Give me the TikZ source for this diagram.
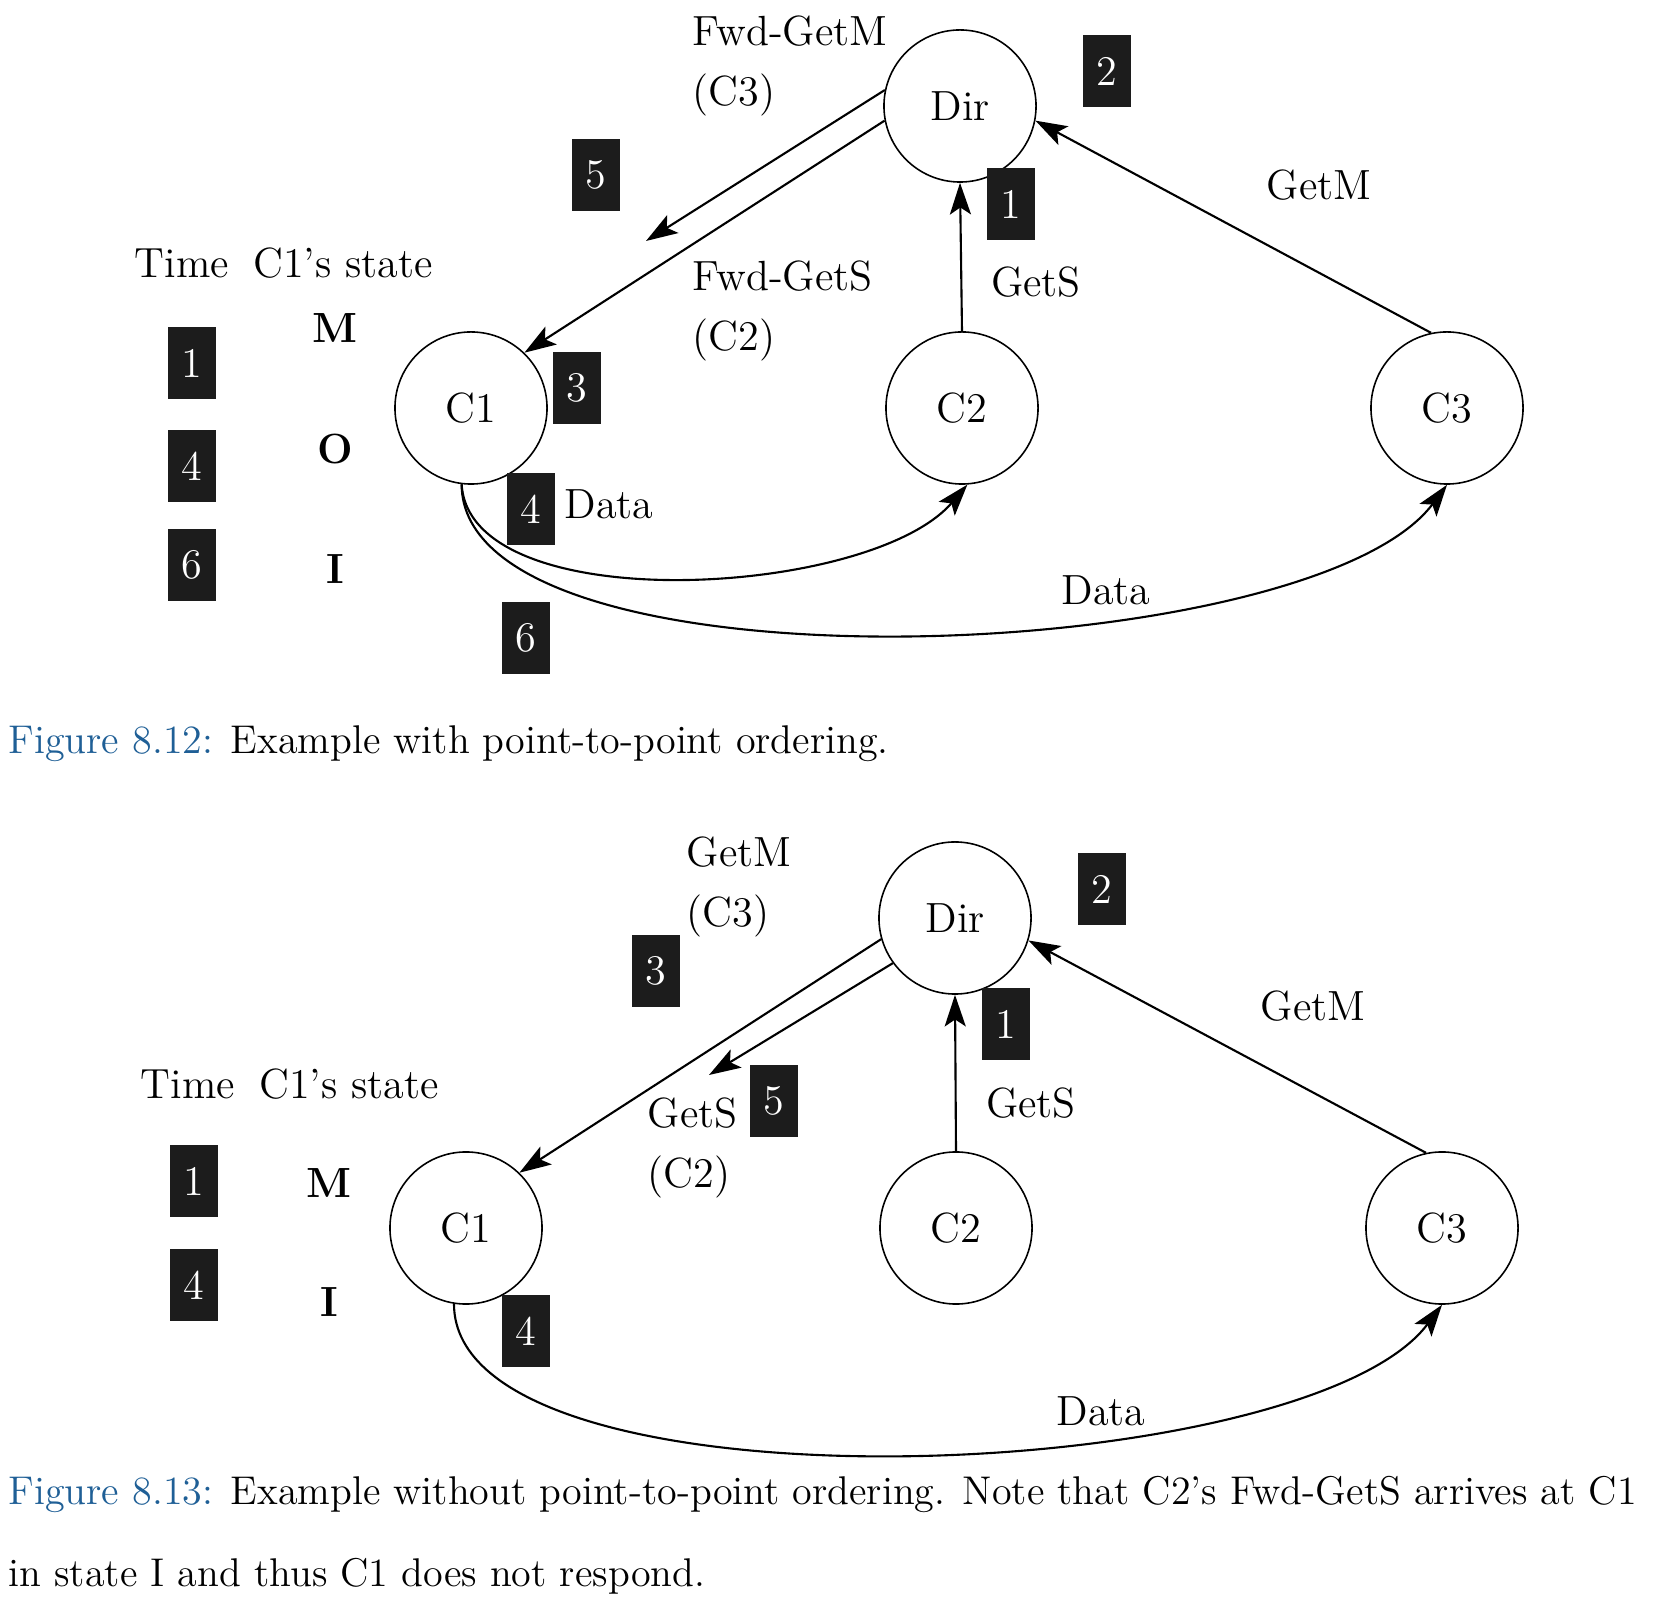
\documentclass[tikz,border=0pt]{standalone}
\usepackage{fontspec}
\usetikzlibrary{arrows.meta,positioning}

\definecolor{capblue}{RGB}{31,95,150}
\definecolor{stampgray}{RGB}{28,28,28}

\begin{document}
\begin{tikzpicture}[x=0.01cm,y=-0.01cm,font=\fontsize{12}{17}\selectfont,
  cache/.style={circle,draw,line width=0.45pt,minimum size=1.52cm,inner sep=0pt},
  stamp/.style={fill=stampgray,text=white,minimum width=0.47cm,minimum height=0.72cm,inner sep=0pt},
  msg/.style={line width=0.6pt,-{Stealth[length=9pt,width=6pt,inset=2pt]}},
  lab/.style={align=left,anchor=west,inner sep=0pt},
  cstate/.style={font=\fontsize{12}{17}\selectfont\bfseries},
  caption/.style={inner sep=0pt,font=\fontsize{11.4}{23.3}\selectfont}]

\useasboundingbox (0,0) rectangle (1660,1610);

%%% Figure 8.12

% Nodes
\node[cache] (dirA) at (960,106) {Dir};
\node[cache] (c1A) at (471,408) {C1};
\node[cache] (c2A) at (962,408) {C2};
\node[cache] (c3A) at (1447,408) {C3};
\coordinate (fwdA) at (646,241);

% Messages
\draw[msg] (dirA.168) -- (fwdA);
\draw[msg] (dirA.191) -- (c1A.46);
\draw[msg] (c2A.north) -- (dirA.south);
\draw[msg] (c3A.102) -- (dirA.-11);
\draw[msg] (c1A.263) .. controls +(8,136) and +(-97,113) .. (c2A.274);
\draw[msg] (c1A.263) .. controls +(0,216) and +(-137,183) .. (c3A.270);

% Labels
\node[lab] (lfgm) at (692,66) {Fwd-GetM\\(C3)};
\node[lab] (lfgs) at (692,311) {Fwd-GetS\\(C2)};
\node (lgsA) at (1036,282) {GetS};
\node (lgmA) at (1319,185) {GetM};
\node (ld1A) at (609,504) {Data};
\node (ld2A) at (1106,590) {Data};

% Time stamps
\node[stamp] (sA2) at (1107,71) {2};
\node[stamp] (sA5) at (596,175) {5};
\node[stamp] (sA1) at (1011,204) {1};
\node[stamp] (sA3) at (577,388) {3};
\node[stamp] (sA4) at (531,509) {4};
\node[stamp] (sA6) at (526,638) {6};

% C1's state over time
\node (timeA) at (182,263) {Time};
\node (stA) at (343,263) {C1's state};
\foreach \n/\by/\s/\sy in {1/363/M/328, 4/466/O/449, 6/565/I/569}
{
  \node[stamp] (tA\n) at (192,\by) {\n};
  \node[cstate] (kA\n) at (335,\sy) {\s};
}

\node[caption,anchor=west] (capA) at (8,744)
{\textcolor{capblue}{Figure 8.12:} Example with point-to-point ordering.};

%%% Figure 8.13

% Nodes
\node[cache] (dirB) at (955,918) {Dir};
\node[cache] (c1B) at (466,1228) {C1};
\node[cache] (c2B) at (956,1228) {C2};
\node[cache] (c3B) at (1442,1228) {C3};
\coordinate (fwdB) at (709,1075);

% Messages
\draw[msg] (dirB.196) -- (c1B.46);
\draw[msg] (dirB.216) -- (fwdB);
\draw[msg] (c2B.north) -- (dirB.south);
\draw[msg] (c3B.102) -- (dirB.-17);
\draw[msg] (c1B.261) .. controls +(0,216) and +(-137,183) .. (c3B.270);

% Labels
\node[lab] (lgmB) at (686,887) {GetM\\(C3)};
\node[lab] (lgsB) at (647,1148) {GetS\\(C2)};
\node (lgsB2) at (1031,1103) {GetS};
\node (lgmB2) at (1313,1006) {GetM};
\node (ldB) at (1101,1411) {Data};

% Time stamps
\node[stamp] (sB2) at (1102,889) {2};
\node[stamp] (sB3) at (656,971) {3};
\node[stamp] (sB1) at (1006,1024) {1};
\node[stamp] (sB5) at (774,1101) {5};
\node[stamp] (sB4) at (526,1331) {4};

% C1's state over time
\node (timeB) at (188,1084) {Time};
\node (stB) at (349,1084) {C1's state};
\foreach \n/\by/\s/\sy in {1/1181/M/1183, 4/1285/I/1302}
{
  \node[stamp] (tB\n) at (194,\by) {\n};
  \node[cstate] (kB\n) at (329,\sy) {\s};
}

\node[caption,anchor=north west,align=left] (capB) at (8,1476)
{\textcolor{capblue}{Figure 8.13:} Example without point-to-point ordering. Note that C2's Fwd-GetS arrives at C1\\
in state I and thus C1 does not respond.};

\end{tikzpicture}
\end{document}
